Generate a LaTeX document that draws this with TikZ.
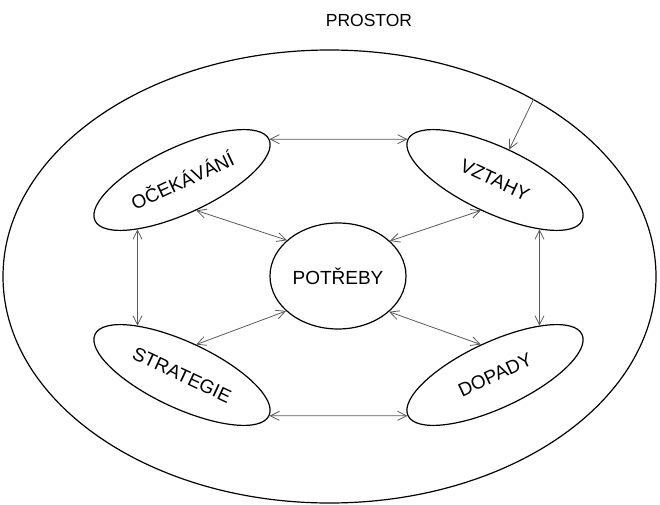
\documentclass[tikz,border=0pt]{standalone}
\usepackage{fontspec}
\setmainfont{Liberation Sans}
\usetikzlibrary{arrows.meta,shapes.geometric}
\begin{document}
\begin{tikzpicture}[x=1pt,y=-1pt,
  oval/.style={draw=black, line width=1.2pt, ellipse, inner sep=0pt, font=\fontsize{19}{19}\selectfont},
  item/.style={oval, minimum width=192pt, minimum height=66pt},
  link/.style={draw=black!65, line width=0.8pt, {Straight Barb[length=9pt,width=9pt]}-{Straight Barb[length=9pt,width=9pt]}},
  onelink/.style={draw=black!65, line width=0.8pt, -{Straight Barb[length=9pt,width=9pt]}}]
\useasboundingbox (0,0) rectangle (660,505);
\node[oval, minimum width=653pt, minimum height=453pt] (outer) at (329.5,276.5) {};
\node[font=\fontsize{17.5}{17.5}\selectfont] (title) at (369,20) {PROSTOR};
\node[item, rotate=25] (oc) at (182,180) {OČEKÁVÁNÍ};
\node[item, rotate=-25] (vz) at (495,180) {VZTAHY};
\node[item, rotate=-25] (st) at (182,375) {STRATEGIE};
\node[item, rotate=25] (dp) at (495,375) {DOPADY};
\node[oval, minimum width=136pt, minimum height=106pt] (pot) at (338,276) {POTŘEBY};
\draw[link] (oc.east) -- (vz.west);
\draw[link] (st.east) -- (dp.west);
\draw[link] (oc.203) -- (st.157);
\draw[link] (vz.337) -- (dp.23);
\draw[link] (oc.south) -- (pot.145.5);
\draw[link] (vz.south) -- (pot.34.5);
\draw[link] (st.north) -- (pot.214.5);
\draw[link] (dp.north) -- (pot.325.5);
\draw[onelink] (outer.41) -- (vz.north);
\end{tikzpicture}
\end{document}
